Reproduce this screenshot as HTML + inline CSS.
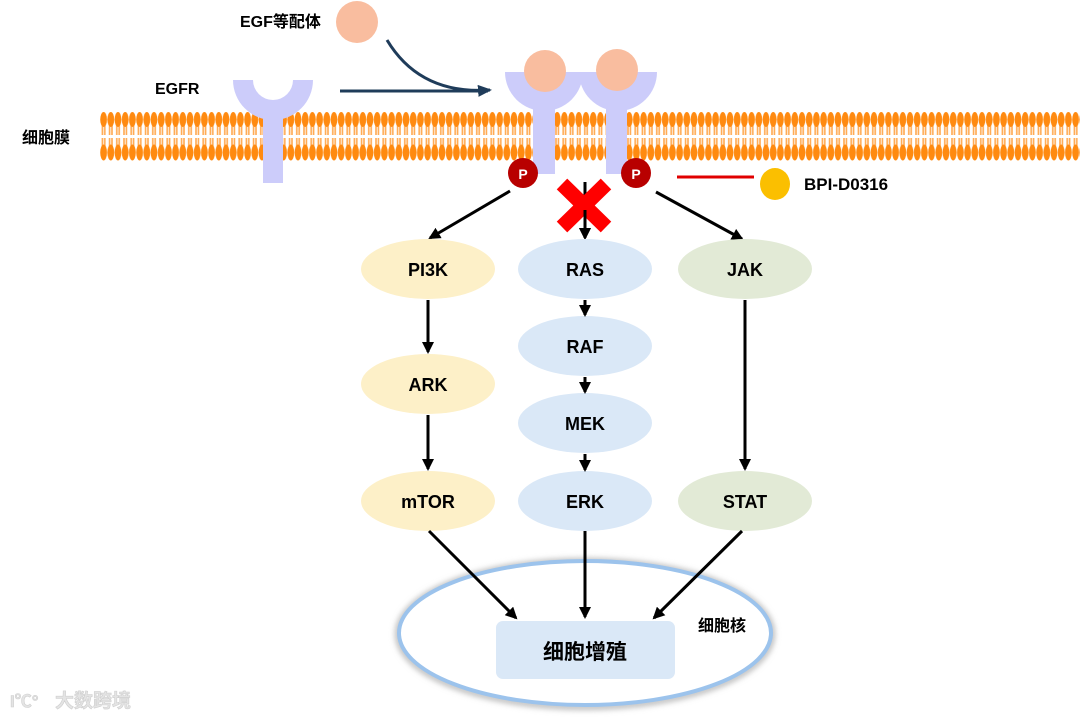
<!DOCTYPE html>
<html><head><meta charset="utf-8"><style>
body{margin:0;background:#fff}
svg{display:block}
text{font-family:"Liberation Sans","Noto Sans CJK SC",sans-serif;font-weight:bold}
</style></head><body>
<svg width="1080" height="721" viewBox="0 0 1080 721" xmlns="http://www.w3.org/2000/svg">
<defs>
<pattern id="lip" x="100" y="112" width="7.2" height="49" patternUnits="userSpaceOnUse">
<line x1="2.4" y1="12" x2="2.4" y2="23" stroke="#ffa850" stroke-width="1.6"/>
<line x1="4.8" y1="12" x2="4.8" y2="23" stroke="#ffa850" stroke-width="1.6"/>
<line x1="2.4" y1="26" x2="2.4" y2="37" stroke="#ffa850" stroke-width="1.6"/>
<line x1="4.8" y1="26" x2="4.8" y2="37" stroke="#ffa850" stroke-width="1.6"/>
<ellipse cx="3.6" cy="7.5" rx="3.4" ry="7.5" fill="#ff8a10"/>
<ellipse cx="3.6" cy="40.5" rx="3.4" ry="8" fill="#ff8a10"/>
</pattern>
<marker id="ah" markerWidth="12" markerHeight="12" refX="10" refY="6" orient="auto" markerUnits="userSpaceOnUse"><path d="M0,0 L12,6 L0,12 Z" fill="#000"/></marker>
<marker id="ahb" markerWidth="14" markerHeight="12" refX="12" refY="6" orient="auto" markerUnits="userSpaceOnUse"><path d="M0,0 L14,6 L0,12 Z" fill="#1f3c5a"/></marker>
<filter id="gl" x="-10%" y="-20%" width="120%" height="140%"><feGaussianBlur stdDeviation="3"/></filter>
</defs>
<rect x="100" y="112" width="980" height="49" fill="url(#lip)"/>
<text x="240" y="27" font-size="16">EGF等配体</text>
<circle cx="357" cy="22" r="21" fill="#f9bd9f"/>
<text x="155" y="94" font-size="16">EGFR</text>
<text x="22" y="143" font-size="16">细胞膜</text>
<path d="M233,80 A40,40 0 0 0 313,80 L293,80 A20,20 0 0 1 253,80 Z" fill="#ccccfa"/>
<rect x="263" y="108" width="20" height="75" fill="#ccccfa"/>
<line x1="340" y1="91" x2="488" y2="91" stroke="#1f3c5a" stroke-width="3"/>
<path d="M387,40 Q420,95 490,90" fill="none" stroke="#1f3c5a" stroke-width="3" marker-end="url(#ahb)"/>
<path d="M505,72 A39,39 0 0 0 583,72 Z" fill="#ccccfa"/>
<path d="M579,72 A39,39 0 0 0 657,72 Z" fill="#ccccfa"/>
<rect x="533" y="100" width="22" height="74" fill="#ccccfa"/>
<rect x="606" y="100" width="21" height="74" fill="#ccccfa"/>
<circle cx="545" cy="71" r="21" fill="#f9bd9f"/>
<circle cx="617" cy="70" r="21" fill="#f9bd9f"/>
<circle cx="523" cy="173" r="15" fill="#b80000"/>
<text x="523" y="179" font-size="14" fill="#fff" text-anchor="middle">P</text>
<circle cx="636" cy="173" r="15" fill="#b80000"/>
<text x="636" y="179" font-size="14" fill="#fff" text-anchor="middle">P</text>
<line x1="677" y1="177" x2="754" y2="177" stroke="#e00000" stroke-width="3"/>
<ellipse cx="775" cy="184" rx="15" ry="16" fill="#fbbf00"/>
<text x="804" y="190" font-size="17">BPI-D0316</text>
<line x1="510" y1="191" x2="430" y2="238" stroke="#000" stroke-width="3" marker-end="url(#ah)"/>
<line x1="585" y1="182" x2="585" y2="238" stroke="#000" stroke-width="3" marker-end="url(#ah)"/>
<line x1="656" y1="192" x2="742" y2="239" stroke="#000" stroke-width="3" marker-end="url(#ah)"/>
<g stroke="#f00" stroke-width="15"><line x1="562" y1="184" x2="606" y2="227"/><line x1="606" y1="184" x2="562" y2="227"/></g>
<line x1="585" y1="210" x2="585" y2="238" stroke="#000" stroke-width="3" marker-end="url(#ah)"/>
<g font-size="18" text-anchor="middle">
<ellipse cx="428" cy="269" rx="67" ry="30" fill="#fdf0c8"/><text x="428" y="276">PI3K</text>
<ellipse cx="428" cy="384" rx="67" ry="30" fill="#fdf0c8"/><text x="428" y="391">ARK</text>
<ellipse cx="428" cy="501" rx="67" ry="30" fill="#fdf0c8"/><text x="428" y="508">mTOR</text>
<ellipse cx="585" cy="269" rx="67" ry="30" fill="#dae8f7"/><text x="585" y="276">RAS</text>
<ellipse cx="585" cy="346" rx="67" ry="30" fill="#dae8f7"/><text x="585" y="353">RAF</text>
<ellipse cx="585" cy="423" rx="67" ry="30" fill="#dae8f7"/><text x="585" y="430">MEK</text>
<ellipse cx="585" cy="501" rx="67" ry="30" fill="#dae8f7"/><text x="585" y="508">ERK</text>
<ellipse cx="745" cy="269" rx="67" ry="30" fill="#e2ead6"/><text x="745" y="276">JAK</text>
<ellipse cx="745" cy="501" rx="67" ry="30" fill="#e2ead6"/><text x="745" y="508">STAT</text>
</g>
<g stroke="#000" stroke-width="3" marker-end="url(#ah)">
<line x1="428" y1="300" x2="428" y2="352"/>
<line x1="428" y1="415" x2="428" y2="469"/>
<line x1="585" y1="300" x2="585" y2="315"/>
<line x1="585" y1="377" x2="585" y2="392"/>
<line x1="585" y1="454" x2="585" y2="470"/>
<line x1="745" y1="300" x2="745" y2="469"/>
</g>
<ellipse cx="585" cy="634" rx="187" ry="73" fill="none" stroke="#bbb" stroke-width="6" filter="url(#gl)"/>
<ellipse cx="585" cy="633" rx="186" ry="72" fill="#fff" stroke="#9cc3ec" stroke-width="4"/>
<rect x="496" y="621" width="179" height="58" rx="7" fill="#dae8f7"/>
<text x="585" y="659" font-size="21" text-anchor="middle">细胞增殖</text>
<text x="698" y="631" font-size="16">细胞核</text>
<g stroke="#000" stroke-width="3" marker-end="url(#ah)">
<line x1="429" y1="531" x2="516" y2="618"/>
<line x1="585" y1="531" x2="585" y2="617"/>
<line x1="742" y1="531" x2="654" y2="618"/>
</g>
<text x="55" y="707" font-size="19" fill="#e4e4e4" stroke="#cfcfcf" stroke-width="0.6">大数跨境</text>
<text x="10" y="707" font-size="17" fill="#e4e4e4" stroke="#cfcfcf" stroke-width="0.6">I℃°</text>
</svg>
</body></html>
